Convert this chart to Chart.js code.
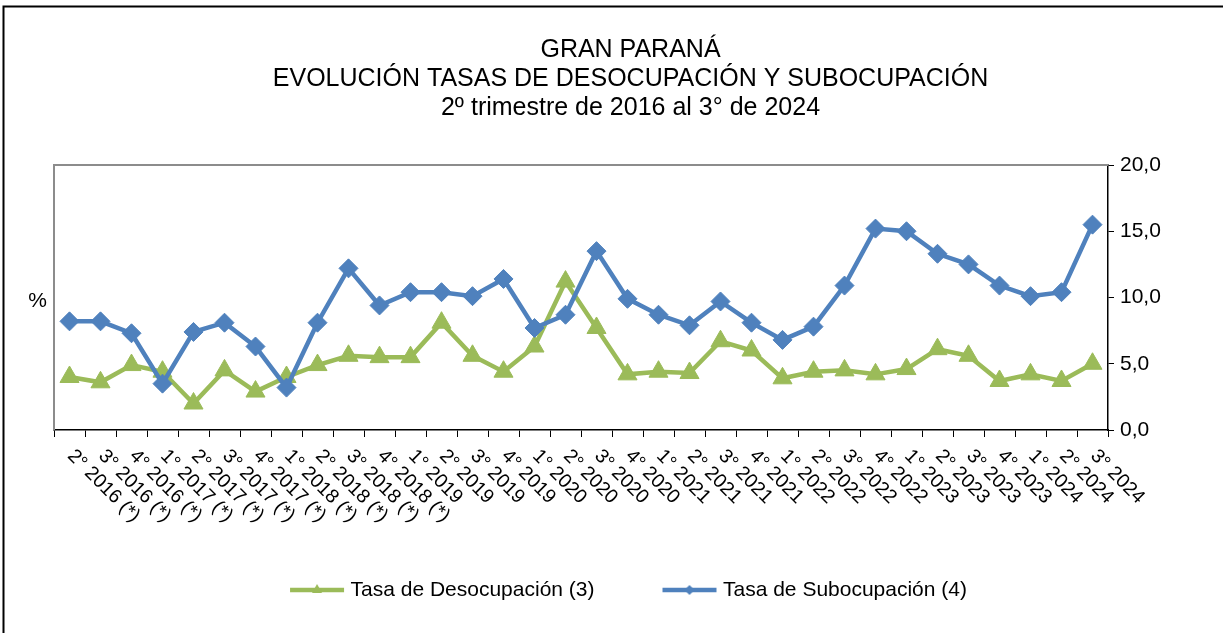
<!DOCTYPE html>
<html>
<head>
<meta charset="utf-8">
<script src="https://cdn.jsdelivr.net/npm/chart.js@4"></script>
<style>
  html, body { margin: 0; padding: 0; background: #ffffff; }
  #wrap { width: 1223px; height: 633px; }
</style>
</head>
<body>
<div id="wrap"><canvas id="c" width="1223" height="633"></canvas></div>
<script>
const categories = ["2° 2016 (*)","3° 2016 (*)","4° 2016 (*)","1° 2017 (*)","2° 2017 (*)","3° 2017 (*)","4° 2017 (*)","1° 2018 (*)","2° 2018 (*)","3° 2018 (*)","4° 2018 (*)","1° 2019","2° 2019","3° 2019","4° 2019","1° 2020","2° 2020","3° 2020","4° 2020","1° 2021","2° 2021","3° 2021","4° 2021","1° 2022","2° 2022","3° 2022","4° 2022","1° 2023","2° 2023","3° 2023","4° 2023","1° 2024","2° 2024","3° 2024"];
const desocupacion = [4.0, 3.6, 4.9, 4.4, 2.0, 4.5, 2.9, 4.0, 4.9, 5.6, 5.5, 5.5, 8.1, 5.6, 4.4, 6.3, 11.2, 7.7, 4.2, 4.4, 4.3, 6.7, 6.0, 3.9, 4.4, 4.5, 4.2, 4.6, 6.1, 5.6, 3.7, 4.2, 3.7, 5.0];
const subocupacion = [8.2, 8.2, 7.3, 3.5, 7.4, 8.1, 6.3, 3.2, 8.1, 12.2, 9.4, 10.4, 10.4, 10.1, 11.4, 7.7, 8.7, 13.5, 9.9, 8.7, 7.9, 9.7, 8.1, 6.8, 7.8, 10.9, 15.2, 15.0, 13.3, 12.5, 10.9, 10.1, 10.4, 15.5];
const seriesNames = ["Tasa de Desocupación (3)", "Tasa de Subocupación (4)"];
const yTicks = [0, 5, 10, 15, 20];
const titleLines = ["GRAN PARANÁ", "EVOLUCIÓN TASAS DE DESOCUPACIÓN Y SUBOCUPACIÓN", "2º trimestre de 2016 al 3° de 2024"];
const yUnit = "%";

const GREEN = '#9BBB59';
const BLUE = '#4F81BD';
const FONT = "'Liberation Sans', Arial, sans-serif";

function legendImage(color, shape) {
  const c = document.createElement('canvas');
  c.width = 56; c.height = 20;
  const g = c.getContext('2d');
  g.strokeStyle = color; g.lineWidth = 4.5;
  g.beginPath(); g.moveTo(1, 10); g.lineTo(55, 10); g.stroke();
  g.fillStyle = color;
  g.beginPath();
  if (shape === 'triangle') {
    g.moveTo(28, 4); g.lineTo(33, 13); g.lineTo(23, 13);
  } else {
    g.moveTo(28, 5); g.lineTo(33, 10); g.lineTo(28, 15); g.lineTo(23, 10);
  }
  g.closePath(); g.fill();
  return c;
}
const legendImgs = [legendImage(GREEN, 'triangle'), legendImage(BLUE, 'diamond')];

const decorPlugin = {
  id: 'decor',
  afterDraw(chart) {
    const ctx = chart.ctx;
    const a = chart.chartArea;
    ctx.save();
    // plot border (top + left)
    ctx.strokeStyle = '#8c8c8c';
    ctx.lineWidth = 2;
    ctx.beginPath();
    ctx.moveTo(a.left, a.bottom);
    ctx.lineTo(a.left, a.top);
    ctx.lineTo(a.right, a.top);
    ctx.stroke();
    // outer frame
    ctx.strokeStyle = '#000';
    ctx.lineWidth = 2;
    ctx.beginPath();
    ctx.moveTo(3.5, 633);
    ctx.lineTo(3.5, 6.5);
    ctx.lineTo(1223, 6.5);
    ctx.stroke();
    // % unit label
    ctx.fillStyle = '#000';
    ctx.font = '21px ' + FONT;
    ctx.textAlign = 'center';
    ctx.textBaseline = 'middle';
    ctx.fillText(yUnit, 37.5, 301);
    // rotated category labels
    const xs = chart.scales.x;
    ctx.font = '19.5px ' + FONT;
    ctx.textAlign = 'left';
    ctx.textBaseline = 'middle';
    categories.forEach((lab, i) => {
      const px = xs.getPixelForValue(i);
      ctx.save();
      ctx.translate(px + 1, a.bottom + 23);
      ctx.rotate(Math.PI / 4);
      ctx.fillText(lab, 0, 0);
      ctx.restore();
    });
    ctx.restore();
  }
};

new Chart(document.getElementById('c'), {
  type: 'line',
  data: {
    labels: categories,
    datasets: [
      {
        label: seriesNames[0],
        data: desocupacion,
        borderColor: GREEN,
        backgroundColor: GREEN,
        borderWidth: 4.5,
        pointStyle: 'triangle',
        pointRadius: 11,
        pointBorderWidth: 1,
        pointBackgroundColor: GREEN,
        pointBorderColor: GREEN,
        tension: 0,
        order: 1
      },
      {
        label: seriesNames[1],
        data: subocupacion,
        borderColor: BLUE,
        backgroundColor: BLUE,
        borderWidth: 4.5,
        pointStyle: 'rectRot',
        pointRadius: 9.5,
        pointBorderWidth: 1,
        pointBackgroundColor: BLUE,
        pointBorderColor: BLUE,
        tension: 0,
        order: 0
      }
    ]
  },
  options: {
    responsive: false,
    devicePixelRatio: 1,
    animation: false,
    layout: { padding: { left: 54, right: 16, top: 0, bottom: 22.5 } },
    plugins: {
      title: {
        display: true,
        text: titleLines,
        color: '#000',
        font: { family: FONT, size: 25, weight: 'normal', lineHeight: 1.16 },
        padding: { top: 35.5, bottom: 42.5 }
      },
      legend: {
        display: true,
        position: 'bottom',
        labels: {
          usePointStyle: true,
          pointStyleWidth: 46,
          padding: 72,
          color: '#000',
          font: { family: FONT, size: 21 },
          generateLabels(chart) {
            return chart.data.datasets.map((ds, i) => ({
              text: ds.label,
              pointStyle: legendImgs[i],
              fillStyle: ds.borderColor,
              strokeStyle: ds.borderColor,
              lineWidth: 0,
              hidden: false,
              datasetIndex: i,
              fontColor: '#000'
            }));
          }
        }
      },
      tooltip: { enabled: false }
    },
    scales: {
      x: {
        type: 'category',
        offset: true,
        grid: { display: true, drawOnChartArea: false, drawTicks: true, tickLength: 7, color: '#000', offset: true },
        border: { display: true, color: '#000', width: 1.5 },
        ticks: { display: false },
        afterFit(scale) { scale.height = 77.5; }
      },
      y: {
        position: 'right',
        min: 0,
        max: 20,
        afterBuildTicks(scale) { scale.ticks = yTicks.map(v => ({ value: v })); },
        grid: { display: true, drawOnChartArea: false, drawTicks: true, tickLength: 6, color: '#000' },
        border: { display: true, color: '#000', width: 1.5 },
        ticks: {
          color: '#000',
          padding: 6,
          font: { family: FONT, size: 21 },
          callback: (v) => Number(v).toFixed(1).replace('.', ',')
        },
        afterFit(scale) { scale.width = 99; }
      }
    }
  },
  plugins: [decorPlugin]
});
</script>
</body>
</html>
